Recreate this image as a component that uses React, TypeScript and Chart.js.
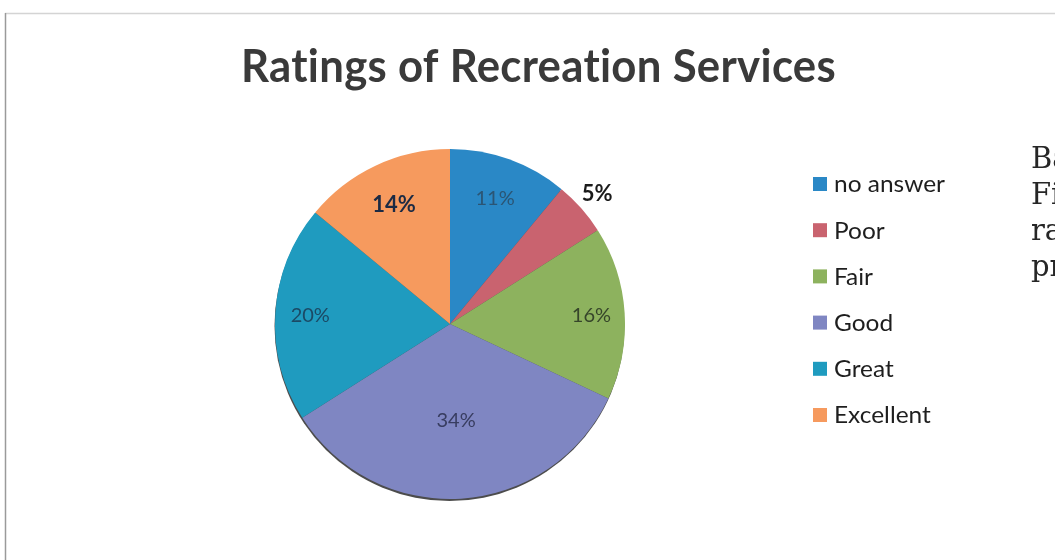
import React, { useEffect, useRef } from "react";
import { Chart, registerables } from "chart.js";

Chart.register(...registerables);

const W = 1055;
const H = 560;

const TITLE = "Ratings of Recreation Services";
const categories = ["no answer", "Poor", "Fair", "Good", "Great", "Excellent"];
const values = [11, 5, 16, 34, 20, 14];
const colors = ["#2A88C6", "#C9636F", "#8DB25E", "#7F86C2", "#1F9BBF", "#F69A5E"];
const sideText = ["Ba", "Fi", "ra", "pr"];

// label styling (radius factor, weight, colour) per slice
const labelStyles = [
  { r: 0.76, bold: false, color: "#2b5574", size: 20 },
  { r: 1.12, bold: true, color: "#1a1a1a", size: 22 },
  { r: 0.81, bold: false, color: "#36452a", size: 20 },
  { r: 0.55, bold: false, color: "#383d60", size: 20 },
  { r: 0.8, bold: false, color: "#1b4a65", size: 20 },
  { r: 0.75, bold: true, color: "#1b2a44", size: 22 },
];

const overlay = {
  id: "overlay",
  beforeDraw(chart: any) {
    const ctx: CanvasRenderingContext2D = chart.ctx;
    ctx.save();
    ctx.fillStyle = "#ffffff";
    ctx.fillRect(0, 0, W, H);
    ctx.strokeStyle = "#d4d4d4";
    ctx.lineWidth = 1.5;
    ctx.beginPath();
    ctx.moveTo(5, 13.5);
    ctx.lineTo(W, 13.5);
    ctx.stroke();
    ctx.strokeStyle = "#9a9a9a";
    ctx.beginPath();
    ctx.moveTo(5.5, H);
    ctx.lineTo(5.5, 13);
    ctx.stroke();
    ctx.restore();
  },
  beforeDatasetsDraw(chart: any) {
    const ctx: CanvasRenderingContext2D = chart.ctx;
    const arc = chart.getDatasetMeta(0).data[0];
    const { x, y, outerRadius } = arc.getProps(["x", "y", "outerRadius"], true);
    ctx.save();
    ctx.fillStyle = "rgba(45,45,45,0.85)";
    ctx.beginPath();
    ctx.arc(x - 0.5, y + 2, outerRadius, 0, Math.PI * 2);
    ctx.fill();
    ctx.restore();
  },
  afterDatasetsDraw(chart: any) {
    const ctx: CanvasRenderingContext2D = chart.ctx;
    const meta = chart.getDatasetMeta(0);
    const data: number[] = chart.data.datasets[0].data;
    const total = data.reduce((a, b) => a + b, 0);
    ctx.save();
    ctx.textAlign = "center";
    ctx.textBaseline = "middle";
    meta.data.forEach((arc: any, i: number) => {
      const p = arc.getProps(["x", "y", "startAngle", "endAngle", "outerRadius"], true);
      const mid = (p.startAngle + p.endAngle) / 2;
      const st = labelStyles[i];
      const rr = p.outerRadius * st.r;
      const lx = p.x + Math.cos(mid) * rr;
      const ly = p.y + Math.sin(mid) * rr;
      ctx.font = `${st.bold ? "bold " : ""}${st.size}px Lato`;
      ctx.fillStyle = st.color;
      ctx.fillText(Math.round((data[i] / total) * 100) + "%", lx, ly);
    });
    ctx.restore();

    // title
    ctx.save();
    ctx.fillStyle = "#3a3a3a";
    ctx.font = "bold 45px Lato";
    (ctx as any).letterSpacing = "0.3px";
    ctx.textBaseline = "alphabetic";
    ctx.textAlign = "left";
    const tw = ctx.measureText(TITLE).width;
    ctx.translate(241, 82);
    ctx.scale(595 / tw, 1);
    ctx.fillText(TITLE, 0, 0);
    ctx.restore();

    // legend
    ctx.save();
    ctx.font = "23px Lato";
    ctx.textBaseline = "middle";
    ctx.textAlign = "left";
    const base = ctx.measureText("no answer").width;
    const sx = 111 / base;
    const labels: string[] = chart.data.labels;
    const bg: string[] = chart.data.datasets[0].backgroundColor;
    labels.forEach((lab, i) => {
      const cy = 184 + i * 46.2;
      ctx.fillStyle = bg[i];
      ctx.fillRect(813, cy - 7, 14, 14);
      ctx.fillStyle = "#1e1e1e";
      ctx.save();
      ctx.translate(834, cy + 1);
      ctx.scale(sx, 1);
      ctx.fillText(lab, 0, 0);
      ctx.restore();
    });
    ctx.restore();

    // side text from the neighbouring page
    ctx.save();
    ctx.font = "29px 'DejaVu Serif'";
    ctx.fillStyle = "#262626";
    ctx.textBaseline = "alphabetic";
    sideText.forEach((t, i) => {
      ctx.fillText(t, 1031, 168 + i * 36);
    });
    ctx.restore();
  },
};

export default function App() {
  const ref = useRef<HTMLCanvasElement | null>(null);
  useEffect(() => {
    if (!ref.current) return;
    const chart = new Chart(ref.current, {
      type: "pie",
      data: {
        labels: categories,
        datasets: [
          {
            data: values,
            backgroundColor: colors,
            borderWidth: 0,
          },
        ],
      },
      options: {
        responsive: false,
        animation: false,
        layout: { padding: { left: 275, right: W - 625, top: 149, bottom: H - 499 } },
        plugins: {
          legend: { display: false },
          tooltip: { enabled: false },
          title: { display: false },
        },
      },
      plugins: [overlay],
    } as any);
    return () => chart.destroy();
  }, []);
  return (
    <div style={{ position: "fixed", left: 0, top: 0, width: W, height: H, background: "#fff" }}>
      <canvas ref={ref} width={W} height={H} style={{ width: W, height: H, display: "block" }} />
    </div>
  );
}
